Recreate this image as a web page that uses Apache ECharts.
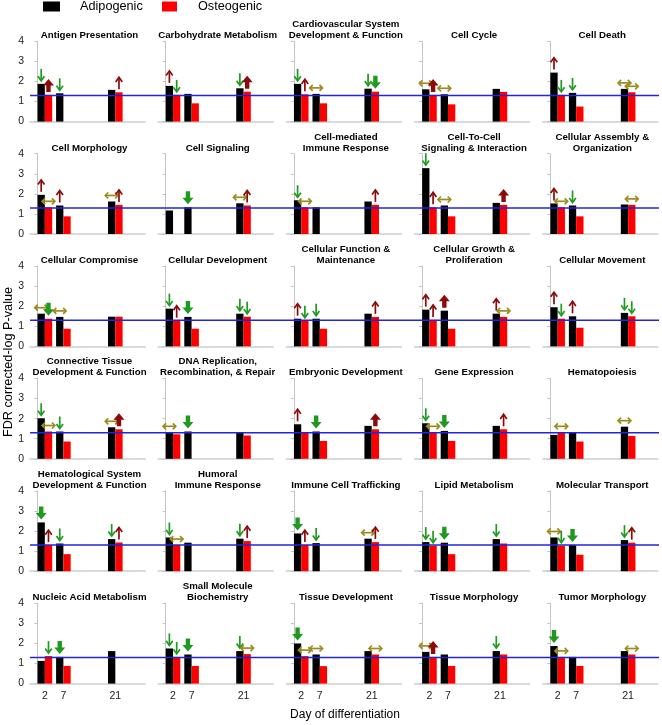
<!DOCTYPE html>
<html><head><meta charset="utf-8">
<script src="https://cdn.jsdelivr.net/npm/echarts@6/dist/echarts.min.js"></script>
<style>html,body{margin:0;padding:0;background:#fff}#c{width:662px;height:725px}</style>
</head><body><div id="c"></div>
<script>
// ---------------- DATA ----------------
const panelTitles = [
  "Antigen Presentation", "Carbohydrate Metabolism", "Cardiovascular System\nDevelopment & Function", "Cell Cycle", "Cell Death",
  "Cell Morphology", "Cell Signaling", "Cell-mediated\nImmune Response", "Cell-To-Cell\nSignaling & Interaction", "Cellular Assembly &\nOrganization",
  "Cellular Compromise", "Cellular Development", "Cellular Function &\nMaintenance", "Cellular Growth &\nProliferation", "Cellular Movement",
  "Connective Tissue\nDevelopment & Function", "DNA Replication,\nRecombination, & Repair", "Embryonic Development", "Gene Expression", "Hematopoiesis",
  "Hematological System\nDevelopment & Function", "Humoral\nImmune Response", "Immune Cell Trafficking", "Lipid Metabolism", "Molecular Transport",
  "Nucleic Acid Metabolism", "Small Molecule\nBiochemistry", "Tissue Development", "Tissue Morphology", "Tumor Morphology"
];
const days = [2, 7, 21];
const dayTickLabels = [2, 7, 21];
const yTicks = [0, 1, 2, 3, 4];
const seriesNames = ["Adipogenic", "Osteogenic"];
const threshold = 1.3;

// -log10 FDR values per panel, for days 2, 7, 21 (null = no bar)
const adipogenic = [
  [1.88,1.41,1.58],[1.78,1.38,1.66],[1.88,1.38,1.64],[1.61,1.36,1.63],[2.44,1.43,1.63],
  [1.95,1.42,1.62],[1.17,1.33,1.53],[1.68,1.33,1.62],[3.28,1.42,1.55],[1.52,1.42,1.47],
  [1.63,1.47,1.48],[1.88,1.47,1.63],[1.38,1.38,1.63],[1.83,1.78,1.63],[1.95,1.50,1.67],
  [2.02,1.36,1.57],[1.32,1.36,1.31],[1.72,1.36,1.64],[1.77,1.39,1.64],[1.19,1.32,1.60],
  [2.43,1.38,1.60],[1.68,1.42,1.62],[1.88,1.40,1.62],[1.45,1.42,1.60],[1.68,1.30,1.55],
  [1.13,1.33,1.62],[1.75,1.45,1.62],[2.00,1.45,1.62],[1.58,1.45,1.62],[1.87,1.33,1.62]
];
const osteogenic = [
  [1.33,null,1.46],[1.33,0.91,1.49],[1.36,0.91,1.49],[1.33,0.86,1.48],[1.33,0.75,1.46],
  [1.33,0.88,1.45],[null,null,1.42],[1.33,null,1.45],[1.33,0.88,1.45],[1.33,0.88,1.45],
  [1.38,0.88,1.48],[1.28,0.88,1.48],[1.28,0.88,1.47],[1.32,0.88,1.47],[1.38,0.93,1.50],
  [1.36,0.86,1.47],[1.22,null,1.16],[1.32,0.89,1.47],[1.32,0.89,1.47],[1.32,0.86,1.14],
  [1.30,0.85,1.43],[1.30,null,1.50],[1.30,null,1.45],[1.27,0.85,1.38],[1.27,0.82,1.42],
  [1.37,0.88,null],[1.33,0.88,1.47],[1.37,0.87,1.45],[1.33,0.88,1.45],[1.33,0.88,1.45]
];
// arrow annotations per bar (days 2,7,21): d=down, D=down bold, u=up, U=up bold, b=both ways, .=none
const adipoArrows = ["dd.","u.d","dbd","bb.","udb","uub",".Db","d..","db.","ud.",
  "bb.","dDd","ud.","uUu","uud","ddb","bD.","uD.","dD.","..b",
  "Ddd","d.d","Ddb","dDd","bDd",".D.","dDd","Db.","b.d","D.."];
const osteoArrows = ["U.u","d.U","u.D","U..","d.b","b.u","..u","b.u","u.U","b.b",
  "D..","u.d","d.u","u.b","d.d","b.U","...","..U","b.u","b..",
  "u.u","b.u","u.u","d..","d.u","d..","d.b","b.b","U..","b.b"];

// ---------------- LAYOUT / STYLE ----------------
const FONT = "'Liberation Sans', Arial, sans-serif";
const gridLeft0 = 30, colStep = 128.2, gridW = 115;
const gridTop0 = 41.3, rowStep = 112.4, gridH = 80.3;
const barW = 7.3, arrowGap = 3;
const GREEN = '#1f9a1f', DARKRED = '#8b0a0a', OLIVE = '#9c8c1e';
const codeNum = {d:1, D:2, u:3, U:4, b:5};

function renderArrow(params, api) {
  const p = api.coord([api.value(0), api.value(1)]);
  const code = api.value(2), side = api.value(3);
  const x = p[0] + side * barW / 2;
  const b = p[1] - arrowGap;
  const lw = 1.7;
  const line = (pts, c) => ({type:'polyline', shape:{points:pts}, style:{stroke:c, lineWidth:lw, fill:null}});
  const poly = (pts, c) => ({type:'polygon', shape:{points:pts}, style:{fill:c}});
  let children = [];
  if (code === 1) {
    children = [line([[x,b-12],[x,b-1]], GREEN), line([[x-3.3,b-4.6],[x,b],[x+3.3,b-4.6]], GREEN)];
  } else if (code === 2) {
    children = [poly([[x-2.2,b-13],[x+2.2,b-13],[x+2.2,b-6.5],[x+5.5,b-6.5],[x,b],[x-5.5,b-6.5],[x-2.2,b-6.5]], GREEN)];
  } else if (code === 3) {
    children = [line([[x,b],[x,b-11]], DARKRED), line([[x-3.3,b-7.4],[x,b-12],[x+3.3,b-7.4]], DARKRED)];
  } else if (code === 4) {
    children = [poly([[x-2.2,b],[x+2.2,b],[x+2.2,b-6.5],[x+5.5,b-6.5],[x,b-13],[x-5.5,b-6.5],[x-2.2,b-6.5]], DARKRED)];
  } else if (code === 5) {
    const cy = b - 3;
    children = [line([[x-6,cy],[x+6,cy]], OLIVE), line([[x-3.4,cy-3],[x-6.4,cy],[x-3.4,cy+3]], OLIVE),
                line([[x+3.4,cy-3],[x+6.4,cy],[x+3.4,cy+3]], OLIVE)];
  }
  return {type:'group', children};
}

const option = {
  animation: false,
  backgroundColor: '#fff',
  textStyle: {fontFamily: FONT},
  grid: [], xAxis: [], yAxis: [], series: [], title: [],
  legend: [
    {data:[seriesNames[0]], left:43, top:0, padding:0, icon:'rect', itemWidth:17, itemHeight:10,
     textStyle:{fontSize:12.7, color:'#000', fontFamily:FONT, padding:[0,0,0,15]}},
    {data:[seriesNames[1]], left:162, top:0, padding:0, icon:'rect', itemWidth:15, itemHeight:10,
     textStyle:{fontSize:12.7, color:'#000', fontFamily:FONT, padding:[0,0,0,16]}}
  ],
  graphic: [
    {type:'text', x:8, y:362, rotation:Math.PI/2,
     style:{text:'FDR corrected-log P-value', fontSize:12.7, fontFamily:FONT, fill:'#000', align:'center', verticalAlign:'middle'}},
    {type:'text', x:345, y:715,
     style:{text:'Day of differentiation', fontSize:12, fontFamily:FONT, fill:'#000', align:'center', verticalAlign:'middle'}}
  ]
};

const titleLH = 11;
for (let i = 0; i < panelTitles.length; i++) {
  const r = Math.floor(i / 5), c = i % 5;
  const left = gridLeft0 + c * colStep, top = gridTop0 + r * rowStep;
  option.grid.push({left, top, width:gridW, height:gridH});
  option.xAxis.push({
    type:'value', gridIndex:i, min:-2, max:29,
    axisLine:{show:true, onZero:false, lineStyle:{color:'#cdcdcd', width:1.6}},
    axisTick:{show:false}, splitLine:{show:false},
    axisLabel: r === 5 ? {show:true, customValues:dayTickLabels, fontSize:10.5, color:'#222', margin:7, fontFamily:FONT} : {show:false}
  });
  option.yAxis.push({
    type:'value', gridIndex:i, min:yTicks[0], max:yTicks[yTicks.length-1], interval:1,
    axisLine:{show:true, lineStyle:{color:'#c4c4c4', width:1}},
    axisTick:{show:true, length:3, lineStyle:{color:'#c4c4c4'}},
    splitLine:{show:false},
    axisLabel:{show:c === 0, fontSize:10.5, color:'#222', margin:6, fontFamily:FONT}
  });
  const nLines = panelTitles[i].split('\n').length;
  const lastCenter = top - 5.8;
  option.title.push({
    text: panelTitles[i], left: left + gridW/2 + 2, textAlign:'center', padding:0,
    top: lastCenter - (nLines - 1) * titleLH - titleLH/2,
    textStyle:{fontSize:9.7, fontWeight:'bold', color:'#000', fontFamily:FONT, lineHeight:titleLH}
  });
  const aData = [], oData = [], arrows = [];
  days.forEach((d, j) => {
    if (adipogenic[i][j] != null) aData.push([d, adipogenic[i][j]]);
    if (osteogenic[i][j] != null) oData.push([d, osteogenic[i][j]]);
    const ca = adipoArrows[i][j], co = osteoArrows[i][j];
    if (ca !== '.') arrows.push([d, adipogenic[i][j], codeNum[ca], -1]);
    if (co !== '.') arrows.push([d, osteogenic[i][j], codeNum[co], 1]);
  });
  option.series.push({type:'bar', name:seriesNames[0], xAxisIndex:i, yAxisIndex:i, data:aData,
    barWidth:barW, barGap:'0%', itemStyle:{color:'#000'}, z:2, silent:true});
  option.series.push({type:'bar', name:seriesNames[1], xAxisIndex:i, yAxisIndex:i, data:oData,
    barWidth:barW, barGap:'0%', itemStyle:{color:'#ff0000'}, z:2, silent:true});
  option.series.push({type:'custom', xAxisIndex:i, yAxisIndex:i, data:arrows, renderItem:renderArrow,
    clip:false, z:6, silent:true});
}
// threshold line grids (one per row, spanning all panels)
for (let r = 0; r < 6; r++) {
  const gi = option.grid.length;
  option.grid.push({left:gridLeft0, top:gridTop0 + r * rowStep, width:629, height:gridH});
  option.xAxis.push({type:'value', gridIndex:gi, min:0, max:1, show:false});
  option.yAxis.push({type:'value', gridIndex:gi, min:yTicks[0], max:yTicks[yTicks.length-1], show:false});
  option.series.push({type:'line', xAxisIndex:gi, yAxisIndex:gi, data:[[0, threshold],[1, threshold]],
    symbol:'none', lineStyle:{color:'#2424d8', width:1.5}, z:4, silent:true});
}

const chart = echarts.init(document.getElementById('c'), null, {renderer:'canvas'});
chart.setOption(option);
</script>
</body></html>
